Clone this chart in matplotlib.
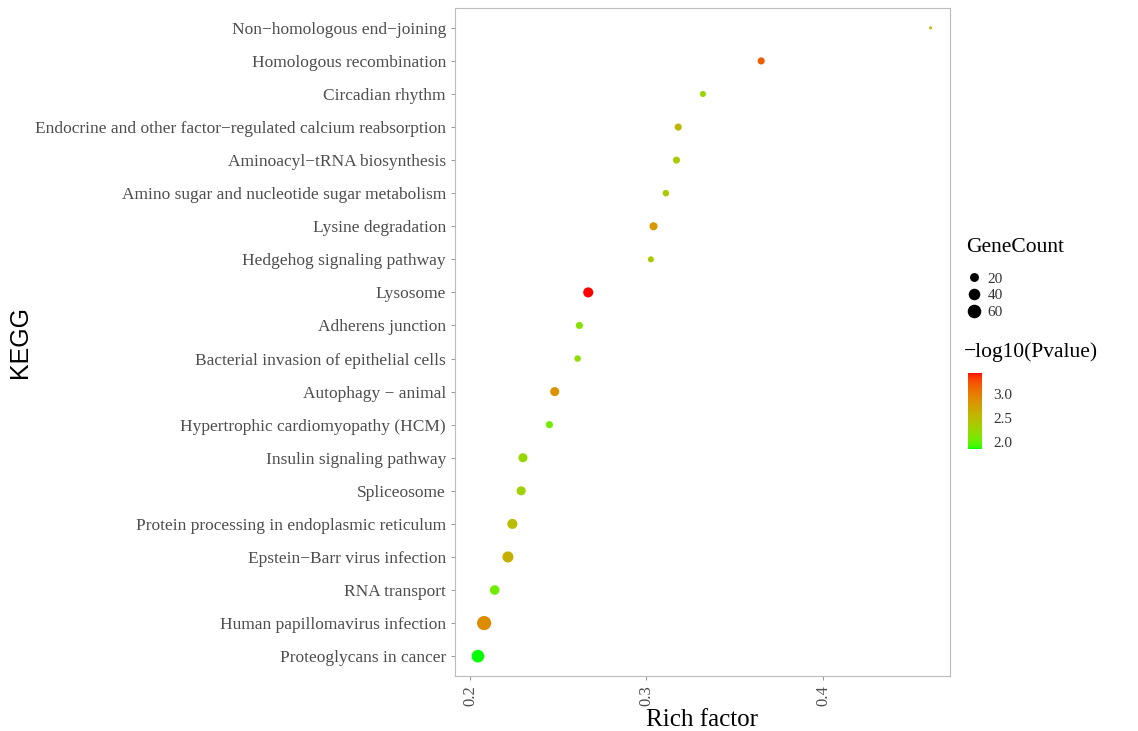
import numpy as np
import matplotlib
matplotlib.use('Agg')
import matplotlib.pyplot as plt
from matplotlib.colors import ListedColormap, Normalize
from matplotlib.lines import Line2D

plt.rcParams['font.family'] = ['Liberation Serif', 'DejaVu Serif']

pathways = ['Non\u2212homologous end\u2212joining', 'Homologous recombination', 'Circadian rhythm',
            'Endocrine and other factor\u2212regulated calcium reabsorption',
            'Aminoacyl\u2212tRNA biosynthesis', 'Amino sugar and nucleotide sugar metabolism',
            'Lysine degradation', 'Hedgehog signaling pathway', 'Lysosome', 'Adherens junction',
            'Bacterial invasion of epithelial cells', 'Autophagy \u2212 animal',
            'Hypertrophic cardiomyopathy (HCM)', 'Insulin signaling pathway', 'Spliceosome',
            'Protein processing in endoplasmic reticulum', 'Epstein\u2212Barr virus infection',
            'RNA transport', 'Human papillomavirus infection', 'Proteoglycans in cancer']
rich_factor = [0.461, 0.365, 0.332, 0.318, 0.317, 0.311, 0.304, 0.3025, 0.267, 0.262,
               0.261, 0.248, 0.245, 0.230, 0.229, 0.224, 0.2215, 0.214, 0.208, 0.2045]
gene_count = [3, 14, 9, 14, 14, 11, 20, 9, 36, 14, 11, 27, 14, 27, 27, 36, 46, 31, 85, 64]
neg_log_p = [2.50, 3.20, 2.25, 2.55, 2.35, 2.40, 2.80, 2.40, 3.45, 2.15,
             2.20, 2.85, 2.05, 2.25, 2.30, 2.50, 2.60, 2.05, 2.90, 1.85]
size_breaks = [20, 40, 60]
color_breaks = [2.0, 2.5, 3.0]


# green -> red ramp interpolated in CIELAB
def srgb_to_lab(rgb):
    c = np.asarray(rgb, float)
    c = np.where(c > 0.04045, ((c + 0.055) / 1.055) ** 2.4, c / 12.92)
    m = np.array([[0.4124, 0.3576, 0.1805], [0.2126, 0.7152, 0.0722], [0.0193, 0.1192, 0.9505]])
    xyz = m @ c / np.array([0.95047, 1.0, 1.08883])
    f = np.where(xyz > 0.008856, np.cbrt(xyz), 7.787 * xyz + 16 / 116)
    return np.array([116 * f[1] - 16, 500 * (f[0] - f[1]), 200 * (f[1] - f[2])])


def lab_to_srgb(lab):
    fy = (lab[0] + 16) / 116
    f = np.array([fy + lab[1] / 500, fy, fy - lab[2] / 200])
    xyz = np.where(f ** 3 > 0.008856, f ** 3, (f - 16 / 116) / 7.787) * np.array([0.95047, 1.0, 1.08883])
    m = np.array([[3.2406, -1.5372, -0.4986], [-0.9689, 1.8758, 0.0415], [0.0557, -0.2040, 1.0570]])
    c = m @ xyz
    c = np.where(c > 0.0031308, 1.055 * np.clip(c, 0, None) ** (1 / 2.4) - 0.055, 12.92 * c)
    return np.clip(c, 0, 1)


lo, hi = srgb_to_lab([0, 1, 0]), srgb_to_lab([1, 0, 0])
cmap = ListedColormap([lab_to_srgb(lo + t * (hi - lo)) for t in np.linspace(0, 1, 256)])
norm = Normalize(min(neg_log_p), max(neg_log_p))


# area-style size scale (diameter in points)
cmin, cmax = min(gene_count), max(gene_count)


def marker_size(c):
    d = 2.2 + 8.0 * np.sqrt((np.asarray(c, float) - cmin) / (cmax - cmin))
    return d ** 2


fig = plt.figure(figsize=(11.38, 7.31), dpi=100)
ax = fig.add_axes([455 / 1138, 1 - 676 / 731, 495 / 1138, 668 / 731])

y = np.arange(len(pathways))[::-1]
ax.scatter(rich_factor, y, s=marker_size(gene_count), c=neg_log_p, cmap=cmap, norm=norm,
           linewidths=0, zorder=3)

ax.set_ylim(-0.6, len(pathways) - 0.4)
ax.set_xlim(0.1915, 0.472)
ax.set_yticks(y)
ax.set_yticklabels(pathways, fontsize=12.5, color='#4D4D4D')
ax.set_xticks([0.2, 0.3, 0.4])
ax.set_xticklabels(['0.2', '0.3', '0.4'], rotation=90, fontsize=12, color='#4D4D4D')
ax.tick_params(length=3, color='#888888', width=0.6)
for sp in ax.spines.values():
    sp.set_color('#BBBBBB')
    sp.set_linewidth(0.8)
ax.set_xlabel('Rich factor', fontsize=18, labelpad=2)
ax.set_ylabel('KEGG', fontsize=18, family=['Liberation Sans', 'DejaVu Sans'])
ax.yaxis.set_label_coords(-0.855, 0.5)

# size legend
fig.text(966 / 1138, 1 - 247 / 731, 'GeneCount', fontsize=15.5, va='center', ha='left')
handles = [Line2D([], [], marker='o', linestyle='', color='black', markeredgewidth=0,
                  markersize=np.sqrt(marker_size(b)) * 1.1) for b in size_breaks]
leg = fig.legend(handles, [str(b) for b in size_breaks], frameon=False,
                 loc='upper left', bbox_to_anchor=(966 / 1138, 1 - 272 / 731),
                 fontsize=11, labelspacing=0.2, handletextpad=0.4,
                 handlelength=1.0, borderpad=0, borderaxespad=0)
for t in leg.get_texts():
    t.set_color('#333333')

# colour bar
fig.text(964 / 1138, 1 - 352 / 731, '\u2212log10(Pvalue)', fontsize=15.5, va='center', ha='left')
cax = fig.add_axes([968 / 1138, 1 - 449 / 731, 14 / 1138, 76 / 731])
cb = fig.colorbar(plt.cm.ScalarMappable(norm=norm, cmap=cmap), cax=cax, ticks=color_breaks)
cb.outline.set_visible(False)
cb.ax.tick_params(length=0, labelsize=11, pad=8, labelcolor='#333333')

fig.savefig('out.png', dpi=100)
